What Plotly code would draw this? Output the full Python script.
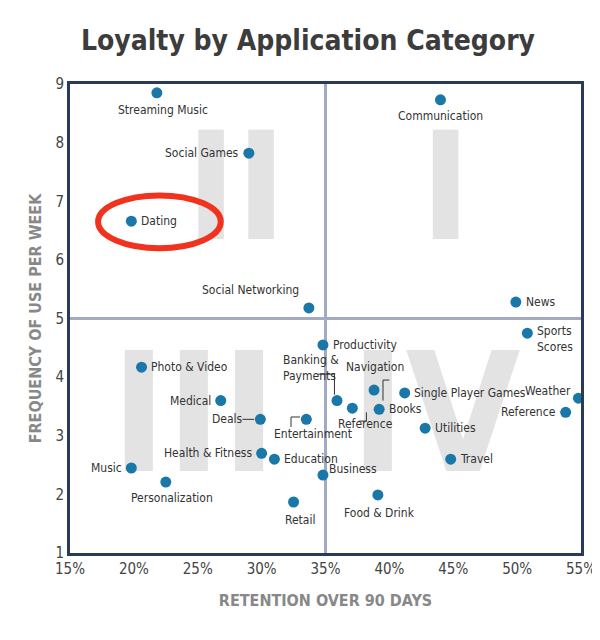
import plotly.graph_objects as go

# data
apps = ["Streaming Music", "Communication", "Social Games", "Dating", "Social Networking",
        "News", "Sports Scores", "Productivity", "Photo & Video", "Medical", "Weather",
        "Reference", "Navigation", "Single Player Games", "Banking & Payments", "Books",
        "Reference", "Deals", "Entertainment", "Utilities", "Health & Fitness", "Education",
        "Travel", "Music", "Business", "Personalization", "Food & Drink", "Retail"]
retention = [21.8, 44.0, 29.0, 19.8, 33.7, 49.9, 50.8, 34.8, 20.6, 26.8, 54.8, 53.8,
             38.8, 41.2, 35.9, 39.2, 37.1, 29.9, 33.5, 42.8, 30.0, 31.0, 44.8, 19.8,
             34.8, 22.5, 39.1, 32.5]
frequency = [8.85, 8.73, 7.82, 6.66, 5.18, 5.28, 4.75, 4.55, 4.17, 3.6, 3.64, 3.4,
             3.78, 3.73, 3.6, 3.45, 3.47, 3.28, 3.28, 3.13, 2.7, 2.6, 2.6, 2.45,
             2.33, 2.21, 1.99, 1.87]
x_ticks = [15, 20, 25, 30, 35, 40, 45, 50, 55]
y_ticks = [1, 2, 3, 4, 5, 6, 7, 8, 9]
quadrants = ["<b>I</b>", "<b>II</b>", "<b>III</b>", "<b>IV</b>"]
quad_x = [44.4, 28.0, 24.7, 43.6]
quad_y = [7.0, 7.0, 3.1, 3.1]
quad_size = [150, 150, 165, 165]

# label offsets (data units) and anchors per point
label_pos = [
    (0.5, -0.3, "center"), (0, -0.28, "center"), (-0.6, 0, "right"), (0.6, 0, "left"),
    (-0.6, 0.3, "right"), (0.6, 0, "left"), (0.6, -0.1, "left"), (0.6, 0, "left"),
    (0.6, 0, "left"), (-0.6, 0, "right"), (-0.4, 0.12, "right"), (-0.6, 0, "right"),
    (0.1, 0.4, "center"), (0.6, 0, "left"), (-2.0, 0.55, "center"), (0.6, 0, "left"),
    (1.0, -0.27, "center"), (-1.2, 0, "right"), (0.5, -0.25, "center"), (0.6, 0, "left"),
    (-0.6, 0, "right"), (0.6, 0, "left"), (0.6, 0, "left"), (-0.6, 0, "right"),
    (0.3, 0.1, "left"), (0.5, -0.28, "center"), (0.1, -0.3, "center"), (0.5, -0.3, "center"),
]

font = "DejaVu Sans Condensed, Liberation Sans Narrow, sans-serif"
navy = "#2b3a5c"
grey = "#888888"

fig = go.Figure()

# big roman numerals behind the points
fig.add_trace(go.Scatter(x=quad_x, y=quad_y, mode="text", text=quadrants, hoverinfo="skip",
                         textfont=dict(size=quad_size, color="#e3e3e3", family=font)))

fig.add_shape(type="line", x0=35, x1=35, y0=1, y1=9, line=dict(color="#a3abc2", width=3), layer="below")
fig.add_shape(type="line", x0=15, x1=55, y0=5, y1=5, line=dict(color="#a3abc2", width=3), layer="below")

fig.add_trace(go.Scatter(x=retention, y=frequency, mode="markers", cliponaxis=False,
                         marker=dict(size=11, color="#1a78a8"), hoverinfo="text", text=apps))

for name, x, y, (dx, dy, anc) in zip(apps, retention, frequency, label_pos):
    fig.add_annotation(x=x + dx, y=y + dy, text=name.replace("Banking & Payments", "Banking &<br>Payments").replace("Sports Scores", "Sports<br>Scores"),
                       showarrow=False, xanchor=anc, align="left",
                       font=dict(size=12, color="#333333", family=font))

# leader lines
for pts in [[(34.4, 4.05), (35.7, 4.05), (35.7, 3.7)],
            [(32.3, 3.15), (32.3, 3.32), (33.0, 3.32)],
            [(39.5, 3.6), (39.5, 3.95), (40.0, 3.95)],
            [(37.6, 3.25), (38.2, 3.25), (38.2, 3.4)],
            [(28.5, 3.28), (29.4, 3.28)]]:
    path = "M " + " L ".join(f"{a},{b}" for a, b in pts)
    fig.add_shape(type="path", path=path, line=dict(color="#333333", width=1))

# red ring round Dating
fig.add_shape(type="circle", x0=17.2, x1=26.8, y0=6.2, y1=7.1, line=dict(color="#f0321e", width=6))

fig.update_layout(
    width=600, height=640, plot_bgcolor="white", paper_bgcolor="white",
    margin=dict(l=62, r=20, t=76, b=95), showlegend=False,
    title=dict(text="<b>Loyalty by Application Category</b>", x=0.5, y=0.965,
               font=dict(size=28, color="#3c3c3c", family=font)),
    xaxis=dict(range=[15, 55], tickvals=x_ticks, ticktext=[f"{v}%" for v in x_ticks],
               showgrid=False, zeroline=False, showline=True, linecolor=navy, linewidth=3,
               mirror=True, ticks="", tickfont=dict(size=15, color="#444444", family=font),
               title=dict(text="<b>RETENTION OVER 90 DAYS</b>", standoff=18,
                          font=dict(size=16, color=grey, family=font))),
    yaxis=dict(range=[1, 9], tickvals=y_ticks, showgrid=False, zeroline=False,
               showline=True, linecolor=navy, linewidth=3, mirror=True, ticks="",
               tickfont=dict(size=15, color="#444444", family=font),
               title=dict(text="<b>FREQUENCY OF USE PER WEEK</b>", standoff=10,
                          font=dict(size=16, color=grey, family=font))),
)

fig.write_html("out.html")
